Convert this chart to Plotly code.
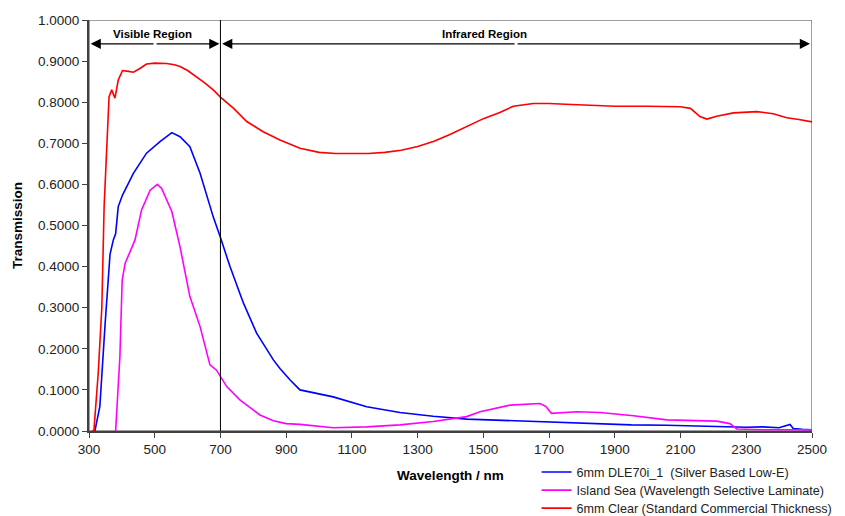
import plotly.graph_objects as go

# ---- data ----
red_wl = [310, 315, 328, 339, 346, 354, 361, 369, 374, 379, 389, 402, 420, 435, 455, 475, 500, 536, 560, 577,
          600, 628, 650, 678, 699, 740, 780, 830, 881, 942, 1000, 1050, 1100, 1150, 1200, 1250, 1300, 1350,
          1400, 1459, 1500, 1550, 1591, 1652, 1700, 1750, 1800, 1855, 1900, 2000, 2099, 2130, 2159, 2180,
          2210, 2261, 2300, 2332, 2382, 2423, 2460, 2500]
red_t = [0.0, 0.002, 0.14, 0.30, 0.546, 0.708, 0.813, 0.83, 0.822, 0.81, 0.854, 0.877, 0.875, 0.873, 0.882,
         0.893, 0.895, 0.894, 0.891, 0.887, 0.877, 0.862, 0.848, 0.83, 0.813, 0.785, 0.753, 0.728, 0.708,
         0.688, 0.678, 0.675, 0.675, 0.675, 0.678, 0.683, 0.692, 0.705, 0.722, 0.745, 0.76, 0.775, 0.79,
         0.797, 0.797, 0.795, 0.793, 0.79, 0.79, 0.79, 0.789, 0.785, 0.765, 0.759, 0.766, 0.774, 0.775,
         0.777, 0.772, 0.762, 0.758, 0.752]

blue_wl = [318, 333, 349, 364, 374, 381, 389, 402, 435, 475, 516, 552, 577, 607, 638, 678, 699, 729, 770,
           810, 861, 881, 912, 942, 1043, 1145, 1246, 1347, 1449, 1550, 1651, 1750, 1855, 1950, 2058, 2160,
           2260, 2300, 2350, 2400, 2433, 2443, 2470, 2500]
blue_t = [0.0, 0.06, 0.26, 0.43, 0.465, 0.48, 0.546, 0.574, 0.627, 0.676, 0.704, 0.726, 0.716, 0.692, 0.627,
          0.521, 0.473, 0.4, 0.311, 0.238, 0.173, 0.152, 0.124, 0.1, 0.083, 0.059, 0.045, 0.036, 0.029,
          0.026, 0.023, 0.02, 0.017, 0.015, 0.014, 0.012, 0.011, 0.009, 0.01, 0.008, 0.016, 0.006, 0.004, 0.003]

mag_wl = [381, 394, 401, 410, 440, 460, 486, 508, 521, 552, 577, 607, 638, 668, 688, 719, 760, 820, 861, 900,
          942, 1000, 1043, 1145, 1246, 1347, 1449, 1490, 1540, 1581, 1672, 1690, 1707, 1784, 1855, 1957,
          2058, 2210, 2250, 2271, 2350, 2500]
mag_t = [0.0, 0.18, 0.367, 0.408, 0.465, 0.538, 0.586, 0.6, 0.59, 0.534, 0.448, 0.327, 0.254, 0.161, 0.148,
         0.108, 0.075, 0.039, 0.025, 0.018, 0.016, 0.011, 0.008, 0.01, 0.015, 0.023, 0.035, 0.047, 0.055,
         0.063, 0.067, 0.06, 0.043, 0.047, 0.045, 0.037, 0.027, 0.024, 0.018, 0.005, 0.003, 0.003]

series_names = ["6mm DLE70i_1  (Silver Based Low-E)",
                "Island Sea (Wavelength Selective Laminate)",
                "6mm Clear (Standard Commercial Thickness)"]
x_ticks = list(range(300, 2501, 200))
y_ticks = [i / 10 for i in range(11)]

fig = go.Figure()
fig.add_trace(go.Scatter(x=blue_wl, y=blue_t, mode="lines", name=series_names[0], legend="legend",
                         line=dict(color="#0000FF", width=1.6)))
fig.add_trace(go.Scatter(x=mag_wl, y=mag_t, mode="lines", name=series_names[1], legend="legend2",
                         line=dict(color="#FF00FF", width=1.6)))
fig.add_trace(go.Scatter(x=red_wl, y=red_t, mode="lines", name=series_names[2], legend="legend3",
                         line=dict(color="#FF0000", width=1.6)))

font_main = "Liberation Sans, Arial, sans-serif"

# plot border (top/right) and divider line
fig.add_shape(type="rect", xref="x", yref="y", x0=300, x1=2500, y0=0, y1=1,
              line=dict(color="#808080", width=1.5), layer="below")
fig.add_shape(type="line", xref="x", yref="y", x0=700, x1=700, y0=0, y1=1,
              line=dict(color="#000000", width=1))

# region arrows (double headed)
arrow_y = 0.942
for (a, b) in [(305, 697), (705, 2494)]:
    mid = (a + b) / 2
    for end in (a, b):
        fig.add_annotation(x=end, y=arrow_y, ax=mid, ay=arrow_y, xref="x", yref="y", axref="x", ayref="y",
                           showarrow=True, arrowhead=2, arrowsize=1.7, arrowwidth=1.2,
                           arrowcolor="#000000", text="")

fig.add_annotation(x=492, y=0.966, xref="x", yref="y", text="<b>Visible Region</b>", showarrow=False,
                   font=dict(family=font_main, size=11.5, color="#000000"))
fig.add_annotation(x=1502, y=0.966, xref="x", yref="y", text="<b>Infrared Region</b>", showarrow=False,
                   font=dict(family=font_main, size=11.5, color="#000000"))

leg_common = dict(x=0.619, xanchor="left", yanchor="top",
                  font=dict(family=font_main, size=12.6, color="#222222"),
                  bgcolor="rgba(0,0,0,0)", itemwidth=30)

# page body has an 8px margin, so the figure is drawn 8px smaller and offset
fig.update_layout(
    width=837, height=508,
    margin=dict(l=81, r=33, t=12, b=85, autoexpand=False),
    paper_bgcolor="white", plot_bgcolor="white",
    font=dict(family=font_main, size=13.5, color="#222222"),
    showlegend=True,
    legend=dict(y=-0.064, **leg_common),
    legend2=dict(y=-0.108, **leg_common),
    legend3=dict(y=-0.152, **leg_common),
    xaxis=dict(range=[300, 2500], tickvals=x_ticks, ticktext=[str(v) for v in x_ticks],
               showgrid=False, zeroline=False, showline=True, linecolor="#404040", linewidth=2,
               ticks="outside", ticklen=5, tickcolor="#404040", tickwidth=1,
               tickfont=dict(size=13.5, color="#222222"),
               title=dict(text="<b>Wavelength / nm</b>", font=dict(size=13.5, color="#000000"), standoff=14)),
    yaxis=dict(range=[0, 1], tickvals=y_ticks, tickformat=".4f",
               showgrid=False, zeroline=False, showline=True, linecolor="#404040", linewidth=2,
               ticks="outside", ticklen=5, tickcolor="#404040", tickwidth=1,
               tickfont=dict(size=13.5, color="#222222"),
               title=dict(text="<b>Transmission</b>", font=dict(size=13.5, color="#000000"), standoff=12)),
)

fig.write_html("out.html")
